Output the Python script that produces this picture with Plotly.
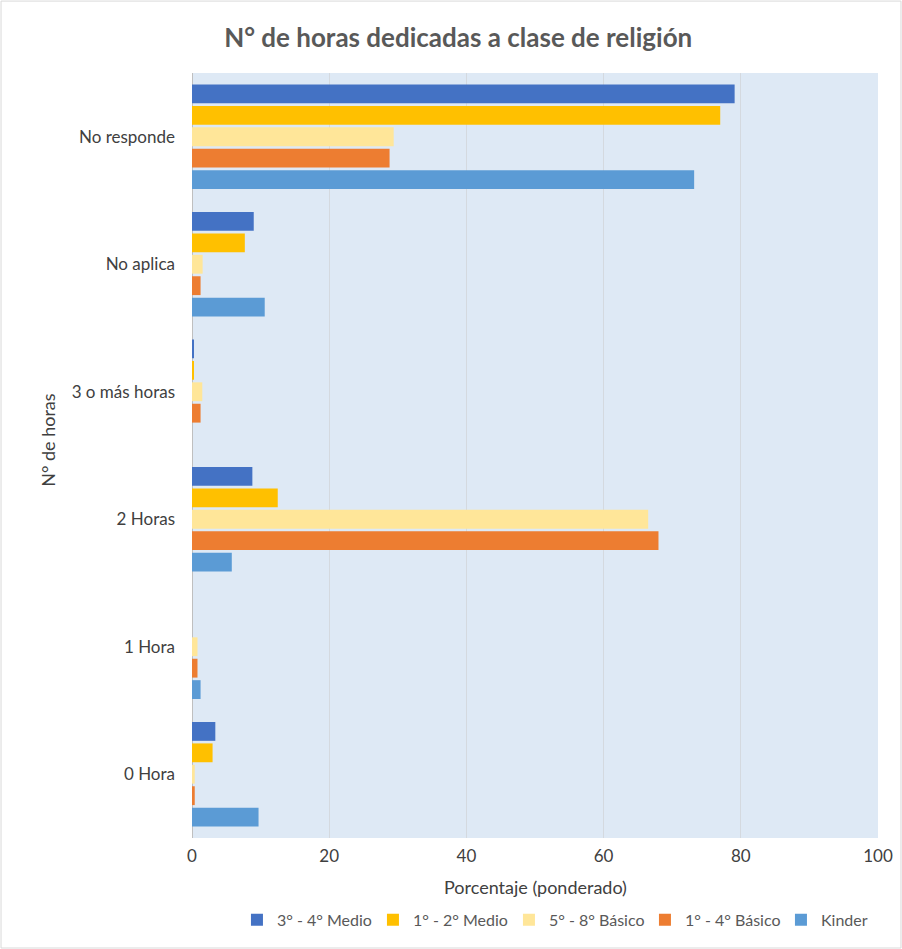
import plotly.graph_objects as go

categories = ["0 Hora", "1 Hora", "2 Horas", "3 o más horas", "No aplica", "No responde"]

kinder = [9.7, 1.25, 5.8, 0.0, 10.6, 73.2]
basico_1_4 = [0.4, 0.8, 68.0, 1.25, 1.25, 28.8]
basico_5_8 = [0.4, 0.8, 66.5, 1.5, 1.55, 29.4]
medio_1_2 = [3.0, 0.0, 12.5, 0.2, 7.7, 77.0]
medio_3_4 = [3.4, 0.0, 8.8, 0.2, 9.0, 79.1]

series_names = ["Kinder", "1° - 4° Básico", "5° - 8° Básico", "1° - 2° Medio", "3° - 4° Medio"]
series_values = [kinder, basico_1_4, basico_5_8, medio_1_2, medio_3_4]
series_colors = ["#5B9BD5", "#ED7D31", "#FFE699", "#FFC000", "#4472C4"]

x_ticks = [0, 20, 40, 60, 80, 100]

fig = go.Figure()
for name, vals, col in zip(series_names, series_values, series_colors):
    fig.add_trace(go.Bar(
        y=categories, x=vals, name=name, orientation="h",
        marker=dict(color=col, line=dict(width=0)),
    ))

font_family = "Lato, 'Open Sans', sans-serif"

fig.update_layout(
    width=902, height=949,
    barmode="group", bargap=0.16, bargroupgap=0.12,
    paper_bgcolor="white", plot_bgcolor="#DEE9F5",
    margin=dict(l=192, r=24, t=73, b=111, autoexpand=False),
    font=dict(family=font_family, size=17, color="#404040"),
    title=dict(text="<b>N° de horas dedicadas a clase de religión</b>",
               x=0.508, xanchor="center", y=0.96, yanchor="middle",
               font=dict(size=26, color="#595959", family=font_family)),
    xaxis=dict(range=[0, 100], tickvals=x_ticks, showgrid=True, gridcolor="#D4D9DF",
               gridwidth=1, zeroline=True, zerolinecolor="#BFBFBF", zerolinewidth=1,
               ticks="", tickfont=dict(size=17, color="#404040"), fixedrange=True,
               ticklabelstandoff=6),
    yaxis=dict(categoryorder="array", categoryarray=categories, ticks="",
               tickfont=dict(size=17, color="#404040"), showgrid=False,
               ticklabelstandoff=16),
    legend=dict(orientation="h", traceorder="reversed", xref="container",
                x=0.2627, xanchor="left", yref="paper",
                y=-0.107, yanchor="middle", font=dict(size=16, color="#595959"),
                itemwidth=30, entrywidth=91, entrywidthmode="pixels",
                bgcolor="rgba(0,0,0,0)"),
    annotations=[
        dict(text="Porcentaje (ponderado)", xref="paper", yref="paper", x=0.5, y=-0.064,
             xanchor="center", yanchor="middle", showarrow=False,
             font=dict(size=18, color="#404040")),
        dict(text="N° de horas", xref="paper", yref="paper", x=-0.209, y=0.52,
             xanchor="center", yanchor="middle", showarrow=False, textangle=-90,
             font=dict(size=18, color="#404040")),
    ],
    shapes=[dict(type="rect", xref="paper", yref="paper", x0=-0.2784, x1=1.0335,
                 y0=-0.1438, y1=1.094, line=dict(color="#D9D9D9", width=1),
                 fillcolor="rgba(0,0,0,0)", layer="below")],
)

fig.write_html("out.html", config={"displayModeBar": False},
               post_script="document.body.style.margin='0';")
